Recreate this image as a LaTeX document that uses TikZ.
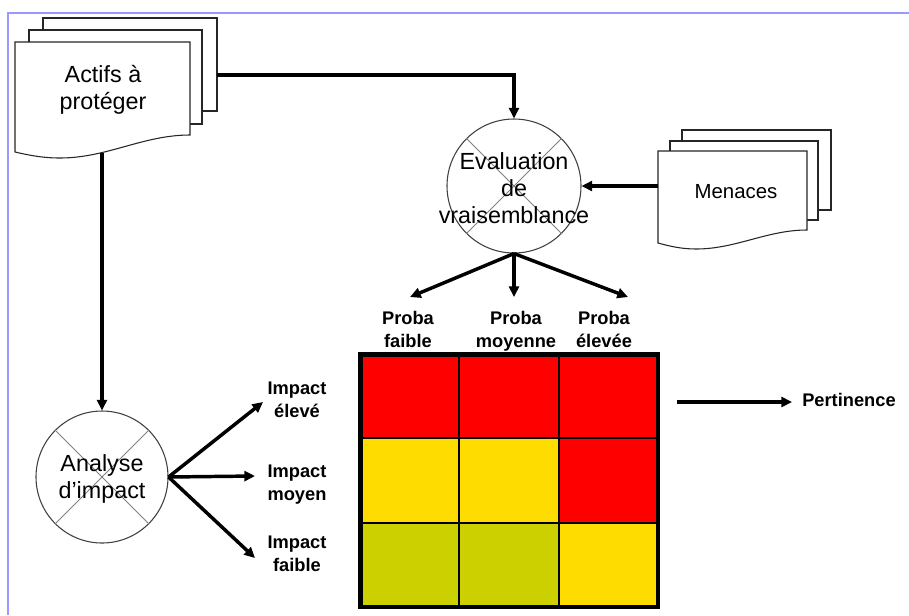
\documentclass[tikz,border=0pt]{standalone}
\usepackage{fontspec}
\setmainfont{Liberation Sans}
\usetikzlibrary{arrows.meta,calc}
\definecolor{frameblue}{RGB}{153,153,255}
\definecolor{riskred}{RGB}{255,0,0}
\definecolor{riskyellow}{RGB}{255,220,0}
\definecolor{riskolive}{RGB}{204,208,0}
\begin{document}
\begin{tikzpicture}[x=0.75pt,y=-0.75pt,
  arr/.style={line width=2.6pt,-{Triangle[length=8pt,width=7.5pt]}},
  page/.style={draw=black!85,line width=0.8pt,fill=white},
  bigtxt/.style={font=\fontsize{17.5}{20.25}\selectfont,align=center,inner sep=0pt},
  lbl/.style={font=\bfseries\fontsize{13.7}{17.25}\selectfont,align=center,inner sep=0pt},
  proc/.style={circle,draw=black!75,line width=0.8pt,inner sep=0pt,fill=white},
  crossline/.style={draw=black!50,line width=0.6pt},
  gridline/.style={draw=black,line width=0.8pt}]
\useasboundingbox (0,0) rectangle (909,615);
% frame
\draw[frameblue,line width=0.8pt] (8,615) -- (8,13) -- (909,13);

% process circles
\node[proc,minimum size=100.5pt] (eval) at (514,186) {};
\draw[crossline] (eval.north west) -- (eval.south east) (eval.north east) -- (eval.south west);
\node[bigtxt] (evaltxt) at (514,188) {Evaluation\\de\\vraisemblance};

\node[proc,minimum size=99pt] (analyse) at (102,477) {};
\draw[crossline] (analyse.north west) -- (analyse.south east) (analyse.north east) -- (analyse.south west);
\node[bigtxt] (analysetxt) at (102,479) {Analyse\\d’impact};

% Actifs document stack
\draw[page] (43,18) rectangle (217,111);
\draw[page] (29,30) rectangle (202,124);
\draw[page] (15,42) -- (190,42) -- (190,135) .. controls (143,135) and (107,158) .. (60,158)
  .. controls (42,158) and (28,155) .. (15,152) -- cycle;
\node[bigtxt] (actifs) at (103,90) {Actifs à\\protéger};
\coordinate (actifsout) at (217,75);
\coordinate (actifsbot) at (102,153);

% Menaces document stack
\draw[page] (682,130) rectangle (831,210);
\draw[page] (670,141) rectangle (818,220);
\draw[page] (658,151) -- (807,151) -- (807,230) .. controls (767,230) and (736,249) .. (696,249)
  .. controls (681,249) and (669,246) .. (658,243) -- cycle;
\node[font=\fontsize{15.3}{18}\selectfont,inner sep=0pt] (menaces) at (736,192) {Menaces};
\coordinate (menacesin) at (658,186);

% labels
\node[lbl,anchor=north] (pf) at (408,311) {Proba\\faible};
\node[lbl,anchor=north] (pm) at (516,311) {Proba\\moyenne};
\node[lbl,anchor=north] (pe) at (604,311) {Proba\\élevée};
\node[lbl,anchor=north] (ie) at (297,382) {Impact\\élevé};
\node[lbl,anchor=north] (im) at (297,465) {Impact\\moyen};
\node[lbl,anchor=north] (ifa) at (297,536) {Impact\\faible};
\node[lbl,anchor=west] (pert) at (802,399.5) {Pertinence};
\coordinate (pertsrc) at (677,402);

% risk matrix
\fill[riskred] (360,354) rectangle (459,438);
\fill[riskred] (459,354) rectangle (559,438);
\fill[riskred] (559,354) rectangle (658,438);
\fill[riskyellow] (360,438) rectangle (459,523);
\fill[riskyellow] (459,438) rectangle (559,523);
\fill[riskred] (559,438) rectangle (658,523);
\fill[riskolive] (360,523) rectangle (459,607);
\fill[riskolive] (459,523) rectangle (559,607);
\fill[riskyellow] (559,523) rectangle (658,607);
\draw[gridline] (459,354) -- (459,607) (559,354) -- (559,607)
  (360,438) -- (658,438) (360,523) -- (658,523);
\draw[black,line width=3.2pt] (360.5,354.5) rectangle (658,607);
\coordinate (grid) at (509,481);

% connectors
\draw[arr] (actifsout) -| (eval.north);
\draw[arr] (menacesin) -- (eval.east);
\draw[arr] (actifsbot) -- (analyse.north);
\draw[arr] (eval.south) -- ($(pf.north)+(2,-14)$);
\draw[arr] (eval.south) -- ($(eval.south |- pm.north)+(0,-14)$);
\draw[arr] (eval.south) -- ($(pe.north)+(24,-14)$);
\draw[arr] (analyse.east) -- ($(ie.north)+(-34,20)$);
\draw[arr] (analyse.east) -- ($(im.north)+(-42,11)$);
\draw[arr] (analyse.east) -- ($(ifa.north)+(-42,22)$);
\draw[arr] (pertsrc) -- ($(pertsrc -| pert.west)+(-10,0)$);
\end{tikzpicture}
\end{document}
